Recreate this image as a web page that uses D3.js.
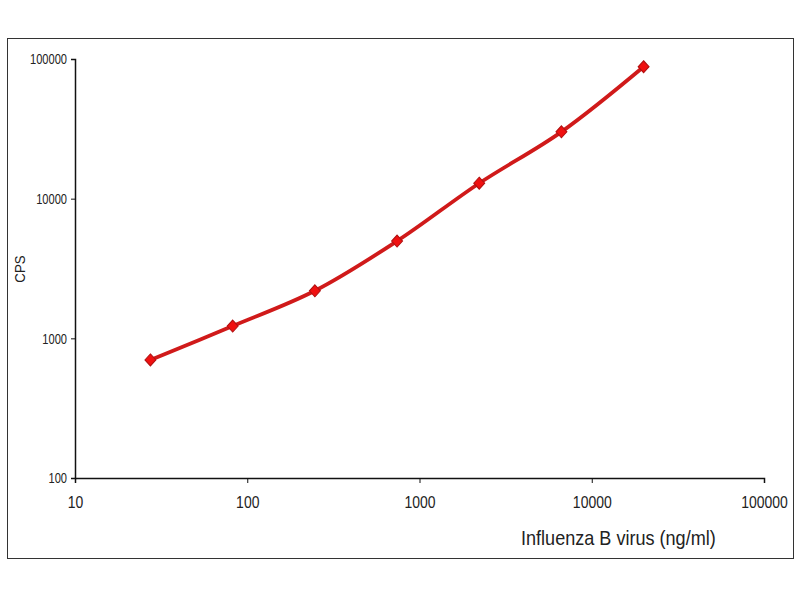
<!DOCTYPE html>
<html>
<head>
<meta charset="utf-8">
<script src="https://cdn.jsdelivr.net/npm/d3@7"></script>
<style>
  body { margin: 0; background: #fff; }
  text { font-family: "Liberation Sans", Arial, sans-serif; fill: #222; }
</style>
</head>
<body>
<script>
const w = 800;
const h = 600;

// data (3-fold dilution series)
const concentration = [27.4, 82.3, 247, 741, 2222, 6667, 20000];
const cps = [700, 1225, 2190, 4970, 12900, 30100, 88000];
const xTicks = [10, 100, 1000, 10000, 100000];
const yTicks = [100, 1000, 10000, 100000];

const svg = d3.select("body")
              .append("svg")
              .attr("width", w)
              .attr("height", h);

// outer frame
svg.append("rect")
   .attr("x", 7.5)
   .attr("y", 38.5)
   .attr("width", 786)
   .attr("height", 520)
   .attr("fill", "none")
   .attr("stroke", "#333")
   .attr("stroke-width", 1);

const xScale = d3.scaleLog()
                 .domain([10, 100000])
                 .range([75, 764]);

const yScale = d3.scaleLog()
                 .domain([100, 100000])
                 .range([478, 59]);

// squeeze a label horizontally (the original uses a narrow face)
function narrow(sel, k) {
    sel.each(function() {
        const len = this.getComputedTextLength();
        d3.select(this)
          .attr("textLength", len * k)
          .attr("lengthAdjust", "spacingAndGlyphs");
    });
}

const xAxis = d3.axisBottom(xScale)
                .tickValues(xTicks)
                .tickFormat(d3.format("d"))
                .tickSize(5)
                .tickPadding(13);

const gx = svg.append("g")
   .attr("transform", "translate(0,478)")
   .call(xAxis);
gx.select(".domain").attr("stroke", "#111").attr("stroke-width", 1.5);
gx.selectAll(".tick line").attr("stroke", "#111");
gx.selectAll("text").attr("font-size", 17).attr("fill", "#222").call(narrow, 0.82);

const yAxis = d3.axisLeft(yScale)
                .tickValues(yTicks)
                .tickFormat(d3.format("d"))
                .tickSize(4)
                .tickPadding(4);

const gy = svg.append("g")
   .attr("transform", "translate(75,0)")
   .call(yAxis);
gy.select(".domain").attr("stroke", "#111").attr("stroke-width", 1.5);
gy.selectAll(".tick line").attr("stroke", "#111");
gy.selectAll("text").attr("font-size", 15).attr("fill", "#222").call(narrow, 0.74);

// axis titles
svg.append("text")
   .attr("x", 521)
   .attr("y", 545)
   .attr("font-size", 21)
   .text("Influenza B virus (ng/ml)")
   .call(narrow, 0.86);

svg.append("text")
   .attr("transform", "translate(25,269) rotate(-90)")
   .attr("text-anchor", "middle")
   .attr("font-size", 14)
   .text("CPS")
   .call(narrow, 0.95);

const pts = concentration.map((c, i) => [c, cps[i]]);

const line = d3.line()
               .x(d => xScale(d[0]))
               .y(d => yScale(d[1]))
               .curve(d3.curveCatmullRom);

svg.append("path")
   .datum(pts)
   .attr("d", line)
   .attr("fill", "none")
   .attr("stroke", "#d01a1a")
   .attr("stroke-width", 3.8);

svg.selectAll(".pt")
   .data(pts)
   .enter()
   .append("path")
   .attr("class", "pt")
   .attr("transform", d => "translate(" + xScale(d[0]) + "," + yScale(d[1]) + ") scale(1,1.1)")
   .attr("d", d3.symbol(d3.symbolDiamond2, 76))
   .attr("fill", "#f01010")
   .attr("stroke", "#b01010")
   .attr("stroke-width", 1);
</script>
</body>
</html>
